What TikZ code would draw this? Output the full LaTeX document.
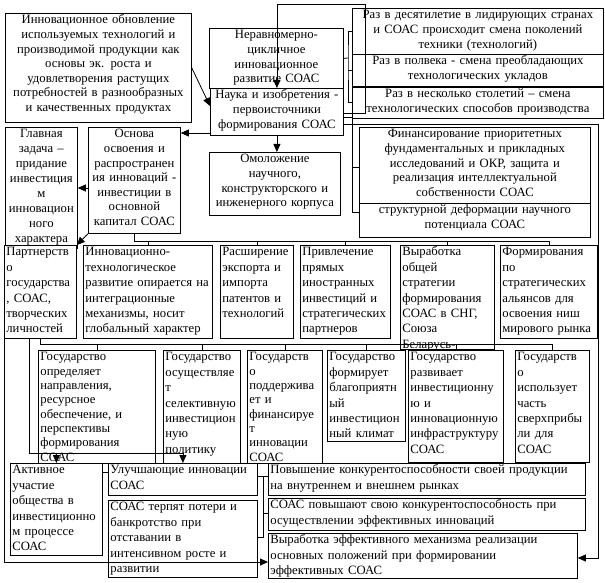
\documentclass[tikz,border=0pt]{standalone}
\usepackage{fontspec}
\setmainfont{Liberation Serif}
\usetikzlibrary{arrows.meta}
\newcommand\fs{\fontsize{12.7}{15.4}\selectfont}
\newcommand\fsc{\fontsize{12.7}{14.6}\selectfont}
\newcommand\fsm{\fontsize{12.7}{14.3}\selectfont}
\tikzset{
  box/.style={draw, fill=white, anchor=north west, inner xsep=2pt, inner ysep=0pt,
    text height=10.5pt, align=left, font=\fs},
  boxc/.style={box, align=center, font=\fsc},
  arr/.style={-{Triangle[length=8pt,width=7pt]}},
}

\begin{document}
\begin{tikzpicture}[x=1pt, y=-1pt, line width=0.8pt]
\fill[white] (0,0) rectangle (605,583);
\useasboundingbox (0,0) rectangle (605,583);

\node[boxc, text width=182pt, text depth=98.5pt] (obn) at (5,13) {Инновационное обновление\\используемых технологий и\\производимой продукции как\\основы эк. роста и\\удовлетворения растущих\\потребностей в разнообразных\\и качественных продуктах};
\node[boxc, text width=130pt, text depth=49.5pt] (nerav) at (209,28) {Неравномерно-\\цикличное\\инновационное\\развитие СОАС};
\node[boxc, text width=129pt, text depth=36.5pt] (nauka) at (210,88) {Наука~и~изобретения~-\\первоисточники\\формирования СОАС};
\node[boxc, text width=247pt, text depth=35.5pt] (raz1) at (352,8) {Раз в десятилетие в лидирующих странах\\и СОАС происходит смена поколений\\техники (технологий)};
\node[boxc, text width=247pt, text depth=21.5pt] (raz2) at (352,54) {Раз в полвека - смена преобладающих\\технологических укладов};
\node[boxc, text width=247pt, text depth=20.5pt] (raz3) at (352,87) {Раз в несколько столетий – смена\\технологических~способов~производства};

\node[boxc, text width=68pt, text depth=110.5pt, font=\fontsize{12.7}{15}\selectfont] (glav) at (5,127) {Главная\\задача –\\придание\\инвестиция\\м\\инновацион\\ного\\характера};
\node[boxc, text width=88pt, text depth=95.5pt] (osn) at (88,127) {Основа\\освоения и\\распространен\\ия~инноваций~-\\инвестиции~в\\основной\\капитал~СОАС};
\node[boxc, text width=127pt, text depth=52.5pt] (omol) at (209,152) {Омоложение\\научного,\\конструкторского~и\\инженерного~корпуса};
\node[boxc, text width=227pt, text depth=65.5pt] (fin) at (359,127) {Финансирование приоритетных\\фундаментальных и прикладных\\исследований и ОКР, защита и\\реализация интеллектуальной\\собственности СОАС};
\node[boxc, text width=227pt, text depth=23.5pt] (struct) at (359,203) {структурной деформации научного\\потенциала СОАС};

\node[box, text width=68pt, text depth=82.5pt] (partn) at (4,245) {Партнерств\\о\\государства\\, СОАС,\\творческих\\личностей};
\node[box, text width=125pt, text depth=82.5pt] (innov) at (83,245) {Инновационно-\\технологическое\\развитие~опирается~на\\интеграционные\\механизмы,~носит\\глобальный~характер};
\node[box, text width=69pt, text depth=82.5pt] (rassh) at (220,245) {Расширение\\экспорта~и\\импорта\\патентов~и\\технологий};
\node[box, text width=86pt, text depth=82.5pt] (privl) at (300,245) {Привлечение\\прямых\\иностранных\\инвестиций~и\\стратегических\\партнеров};
\node[box, text width=90pt, text depth=93.5pt] (vyrab) at (400,245) {Выработка\\общей\\стратегии\\формирования\\СОАС~в~СНГ,\\Союза\\Беларусь-};
\node[box, text width=93pt, text depth=82.5pt] (form) at (500,245) {Формирования\\по\\стратегических\\альянсов~для\\освоения~ниш\\мирового~рынка};

\node[box, text width=113pt, text depth=102.5pt, font=\fsm] (gos1) at (38,350) {Государство\\определяет\\направления,\\ресурсное\\обеспечение,~и\\перспективы\\формирования\\СОАС};
\node[box, text width=73pt, text depth=102.5pt] (gos2) at (163,350) {Государство\\осуществляе\\т\\селективную\\инвестицион\\ную\\политику};
\node[box, text width=71pt, text depth=102.5pt, font=\fsm] (gos3) at (247,350) {Государств\\о\\поддержива\\ет~и\\финансируе\\т\\инновации\\СОАС};
\node[box, text width=74pt, text depth=80.5pt] (gos4) at (327,350) {Государство\\формирует\\благоприятн\\ый\\инвестицион\\ный~климат};
\node[box, text width=91pt, text depth=101.5pt] (gos5) at (408,350) {Государство\\развивает\\инвестиционну\\ю~и\\инновационную\\инфраструктуру\\СОАС};
\node[box, text width=70pt, text depth=101.5pt] (gos6) at (515,350) {Государств\\о\\использует\\часть\\сверхприбы\\ли~для\\СОАС};

\node[box, text width=88pt, text depth=81.5pt] (akt) at (10,463) {Активное\\участие\\общества~в\\инвестиционно\\м~процессе\\СОАС};
\node[box, text width=145pt, text depth=21.5pt] (ulu) at (108,463) {Улучшающие~инновации\\СОАС};
\node[box, text width=145pt, text depth=66.5pt] (poteri) at (108,500) {СОАС~терпят~потери~и\\банкротство~при\\отставании~в\\интенсивном~росте~и\\развитии};
\node[box, text width=313pt, text depth=21.5pt] (pov) at (268,463) {Повышение конкурентоспособности своей продукции\\на внутреннем и внешнем рынках};
\node[box, text width=313pt, text depth=21.5pt] (konk) at (268,498) {СОАС повышают свою конкурентоспособность при\\осуществлении эффективных инноваций};
\node[box, text width=305pt, text depth=34.5pt] (mech) at (268,533) {Выработка эффективного механизма реализации\\основных положений при формировании\\эффективных СОАС};

% top part
\draw (nerav.east) -- (348,58);
\draw (raz1.west) -| (348,58) |- (raz3.west);
\draw (raz2.west) -- (raz2.west -| 348,0);
\draw[arr] (nauka.east |- 0,113) -| (365,4) -| (nauka.north);
\draw (nauka.east |- 0,117) -| (352,212) -- (struct.west |- 0,212);
\draw (352,167) -- (fin.west |- 0,167);
\draw[arr] (nauka.east |- 0,124) -| (598,558) -- (mech.east |- 0,558);
\draw[arr] (obn.east) -- (nauka.west |- 0,106);
\draw[arr] (nauka.south) -- (nauka.south |- omol.north);
\draw[arr] (nauka.west |- 0,133) -- (osn.east |- 0,133);
\draw[arr] (osn.west |- 0,188) -- (glav.east |- 0,188);
\draw[arr] (osn.south west) -- (partn.north east);

% buses
\draw (osn.south) |- (form.north |- 0,241) -- (form.north);
\foreach \b in {innov,rassh,privl,vyrab}
  \draw (\b.north) -- (\b.north |- 0,241);
\draw (partn.south) |- (gos6.north |- 0,344) -- (gos6.north);
\foreach \b in {gos1,gos2,gos3,gos4,gos5}
  \draw (\b.north) -- (\b.north |- 0,344);

% bottom part
\draw[arr] (partn.south -| 29,0) |- (ulu.north |- 0,453) -- (ulu.north);
\draw[arr] (akt.north |- 0,453) -- (akt.north);
\draw[arr] (partn.south west) |- (mech.west |- 0,562);
\draw (akt.east |- 0,472) -- (ulu.west |- 0,472);
\draw (ulu.east |- 0,476) -- (pov.west |- 0,476);
\draw (263,476) |- (poteri.east |- 0,537);
\draw (263,513) -- (konk.west |- 0,513);
\end{tikzpicture}
\end{document}
